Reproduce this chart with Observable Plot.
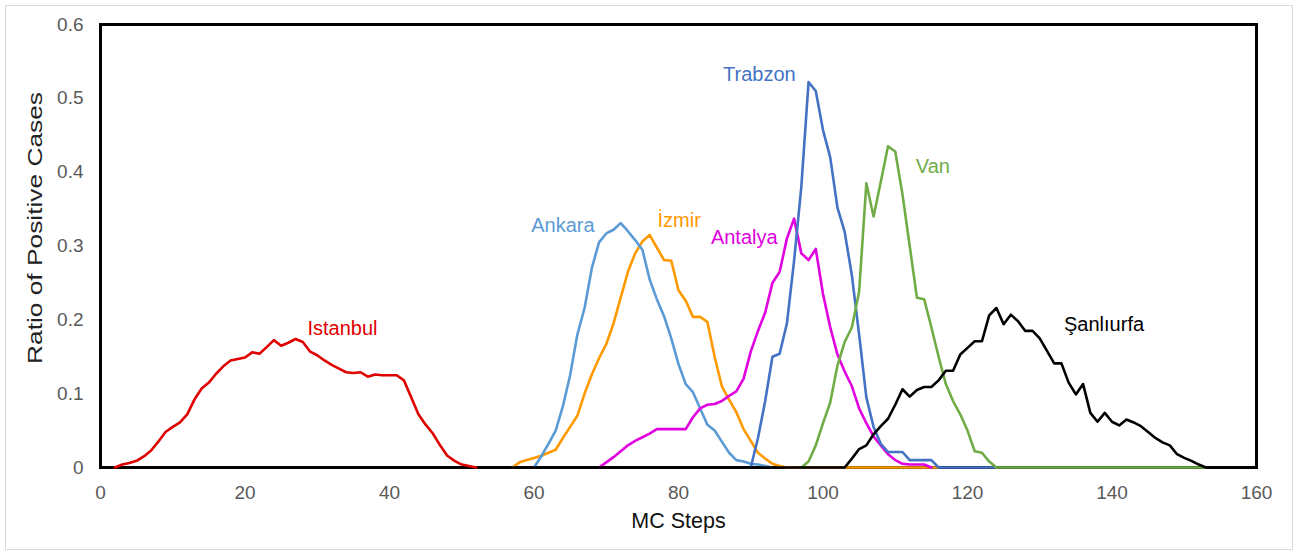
<!DOCTYPE html>
<html><head><meta charset="utf-8">
<script src="https://cdn.jsdelivr.net/npm/d3@7"></script>
<script src="https://cdn.jsdelivr.net/npm/@observablehq/plot@0.6"></script>
<style>
html,body{margin:0;padding:0;background:#fff;}
#wrap{position:relative;width:1297px;height:554px;}
#border{position:absolute;left:5px;top:5px;width:1286px;height:543px;border:1px solid #d9d9d9;pointer-events:none;}
</style></head>
<body><div id="wrap"><div id="border"></div></div>
<script>
// ---- data (ratio of positive cases per MC step) ----
const cities = ["Istanbul", "Ankara", "İzmir", "Antalya", "Trabzon", "Van", "Şanlıurfa"];
const colors = ["#e00000", "#5b9bd5", "#ff9900", "#e000e0", "#4472c4", "#70ad47", "#000000"];

const istanbulStart = 2;
const istanbul = [0, 0.004, 0.006, 0.009, 0.015, 0.023, 0.035, 0.048, 0.055, 0.061, 0.072, 0.092, 0.107, 0.115, 0.127, 0.137, 0.145, 0.147, 0.149, 0.156, 0.154, 0.163, 0.1725, 0.165, 0.169, 0.174, 0.17, 0.157, 0.152, 0.145, 0.139, 0.134, 0.129, 0.128, 0.129, 0.123, 0.126, 0.125, 0.125, 0.125, 0.118, 0.095, 0.072, 0.058, 0.046, 0.03, 0.016, 0.009, 0.004, 0.002, 0];

const ankaraStart = 60;
const ankara = [0, 0.015, 0.032, 0.05, 0.083, 0.125, 0.18, 0.216, 0.27, 0.305, 0.317, 0.322, 0.331, 0.32, 0.308, 0.295, 0.255, 0.228, 0.205, 0.175, 0.14, 0.113, 0.102, 0.08, 0.058, 0.05, 0.035, 0.02, 0.01, 0.008, 0.005, 0.004, 0.002, 0];

const izmirStart = 57;
const izmir = [0, 0.007, 0.01, 0.013, 0.016, 0.02, 0.024, 0.04, 0.055, 0.07, 0.1, 0.126, 0.148, 0.167, 0.195, 0.23, 0.265, 0.29, 0.306, 0.315, 0.298, 0.281, 0.28, 0.24, 0.226, 0.204, 0.204, 0.197, 0.15, 0.11, 0.092, 0.075, 0.052, 0.036, 0.02, 0.012, 0.005, 0.002, 0,
  0, 0, 0, 0, 0, 0, 0, 0, 0, 0, 0, 0, 0, 0, 0, 0, 0, 0, 0, 0, 0];

const antalyaStart = 69;
const antalya = [0, 0.007, 0.014, 0.022, 0.03, 0.036, 0.041, 0.046, 0.052, 0.052, 0.052, 0.052, 0.052, 0.068, 0.08, 0.085, 0.086, 0.09, 0.097, 0.103, 0.12, 0.157, 0.185, 0.21, 0.25, 0.265, 0.31, 0.337, 0.29, 0.281, 0.296, 0.235, 0.19, 0.153, 0.13, 0.11, 0.08, 0.06, 0.042, 0.03, 0.018, 0.01, 0.005, 0.004, 0.004, 0.004, 0];

const trabzonStart = 90;
const trabzon = [0, 0.04, 0.09, 0.15, 0.154, 0.195, 0.28, 0.38, 0.522, 0.51, 0.457, 0.42, 0.352, 0.319, 0.26, 0.18, 0.095, 0.055, 0.032, 0.021, 0.021, 0.021, 0.01, 0.01, 0.01, 0.01, 0, 0, 0, 0, 0, 0, 0, 0, 0];

const vanStart = 97;
const van = [0, 0.008, 0.03, 0.06, 0.088, 0.138, 0.17, 0.19, 0.238, 0.385, 0.34, 0.387, 0.435, 0.428, 0.37, 0.3, 0.23, 0.228, 0.19, 0.15, 0.113, 0.09, 0.072, 0.05, 0.022, 0.02, 0.008, 0,
  0, 0, 0, 0, 0, 0, 0, 0, 0, 0, 0, 0, 0, 0, 0, 0, 0, 0, 0, 0, 0, 0, 0, 0, 0, 0, 0, 0, 0];

const sanliurfaStart = 0;
const sanliurfa = [
  0, 0, 0, 0, 0, 0, 0, 0, 0, 0, 0, 0, 0, 0, 0, 0, 0, 0, 0, 0, 0, 0, 0, 0, 0, 0, 0, 0, 0, 0, 0, 0, 0, 0, 0, 0, 0, 0, 0, 0, 0, 0, 0, 0, 0, 0, 0, 0, 0, 0, 0, 0,
  0, 0, 0, 0, 0, 0, 0, 0, 0, 0, 0, 0, 0, 0, 0, 0, 0, 0, 0, 0, 0, 0, 0, 0, 0, 0, 0, 0, 0, 0, 0, 0, 0, 0, 0, 0, 0, 0, 0, 0, 0, 0, 0, 0, 0, 0, 0, 0, 0, 0, 0, 0,
  0.012, 0.025, 0.03, 0.045, 0.056, 0.066, 0.085, 0.106, 0.096, 0.105, 0.109, 0.109, 0.118, 0.131, 0.131, 0.153, 0.162, 0.171, 0.171, 0.206, 0.216, 0.194, 0.207, 0.198, 0.185, 0.185, 0.175, 0.158, 0.141, 0.141, 0.115, 0.099, 0.113, 0.074, 0.062, 0.074, 0.062, 0.057, 0.065, 0.061, 0.056, 0.048, 0.04, 0.034, 0.03, 0.018, 0.013, 0.009, 0.004, 0,
  0, 0, 0, 0, 0, 0, 0];

// label anchor points (data units)
const labelX = [33.5, 64.0, 80.1, 89.1, 91.2, 115.2, 138.9];
const labelY = [0.1885, 0.327, 0.334, 0.311, 0.5315, 0.408, 0.193];

const xTicks = [0, 20, 40, 60, 80, 100, 120, 140, 160];
const yTicks = [0, 0.1, 0.2, 0.3, 0.4, 0.5, 0.6];
const xTitle = "MC Steps";
const yTitle = "Ratio of Positive Cases";

// ---- build tables ----
const seriesDefs = [
  {city: "İzmir", start: izmirStart, values: izmir},
  {city: "Ankara", start: ankaraStart, values: ankara},
  {city: "Antalya", start: antalyaStart, values: antalya},
  {city: "Trabzon", start: trabzonStart, values: trabzon},
  {city: "Van", start: vanStart, values: van},
  {city: "Şanlıurfa", start: sanliurfaStart, values: sanliurfa},
  {city: "Istanbul", start: istanbulStart, values: istanbul}
];
const tables = seriesDefs.map(s => ({
  city: s.city,
  rows: s.values.map((v, i) => ({city: s.city, step: s.start + i, value: v}))
}));
const labels = cities.map((c, i) => ({city: c, x: labelX[i], y: labelY[i]}));

const font = "'Liberation Sans', Arial, sans-serif";

const chart = Plot.plot({
  width: 1297,
  height: 554,
  marginLeft: 100,
  marginRight: 41,
  marginTop: 24,
  marginBottom: 87,
  style: {fontFamily: font, background: "transparent", overflow: "visible"},
  x: {domain: [0, 160]},
  y: {domain: [0, 0.6]},
  color: {domain: cities, range: colors},
  marks: [
    Plot.frame({stroke: "#000", strokeWidth: 3}),
    ...tables.map(t => Plot.line(t.rows, {x: "step", y: "value", stroke: "city", strokeWidth: 2.6, strokeLinejoin: "round"})),
    Plot.axisX({ticks: xTicks, tickSize: 0, tickPadding: 18, fontSize: 19, fill: "#595959", label: null, tickFormat: d => String(d)}),
    Plot.axisY({ticks: yTicks, tickSize: 0, tickPadding: 17, fontSize: 19, fill: "#595959", label: null,
      tickFormat: d => d === 0 ? "0" : d3.format(".1f")(d)}),
    Plot.text(labels, {x: "x", y: "y", text: "city", fill: "city", fontSize: 20, textAnchor: "middle", lineAnchor: "middle"}),
    Plot.text([xTitle], {frameAnchor: "bottom", dy: 54, text: d => d, fontSize: 21.5, fill: "#111", lineAnchor: "middle"}),
    Plot.text([yTitle], {frameAnchor: "left", dx: -65, dy: -18, rotate: -90, text: d => d, fontSize: 20, fill: "#222", lineAnchor: "middle", textAnchor: "middle"})
  ]
});

document.getElementById("wrap").appendChild(chart);

// stretch the y title to match the reference's length
d3.select(chart).selectAll("text").filter(function() { return this.textContent === yTitle; })
  .attr("textLength", 272).attr("lengthAdjust", "spacingAndGlyphs");
</script>
</body></html>
